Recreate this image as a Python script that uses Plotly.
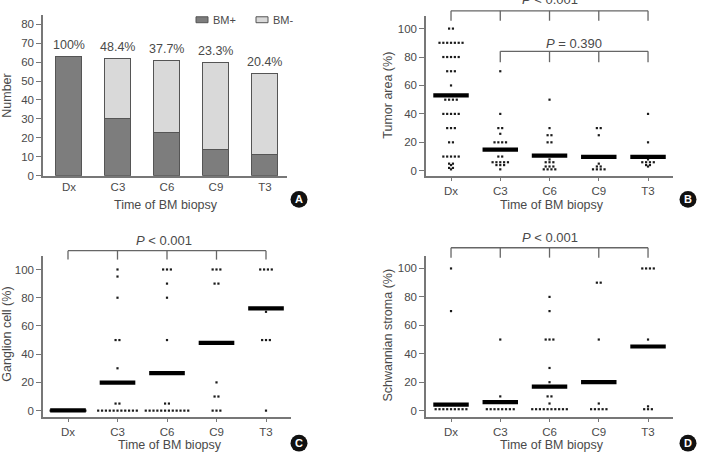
import plotly.graph_objects as go

W, H = 706, 465
FONT = "Liberation Sans Narrow, Arial Narrow, Liberation Sans, Arial"
TXT = "#4a4a4a"
AX = "#777777"

categories = ["Dx", "C3", "C6", "C9", "T3"]

# Panel A: number of patients by BM status
bm_pos = [63, 30, 23, 14, 11]
bm_neg = [0, 32, 38, 46, 43]
pct_labels = ["100%", "48.4%", "37.7%", "23.3%", "20.4%"]

# Panel B: tumor area (%) rows of (value, count)
tumor_dx = [(100, 2), (90, 7), (80, 5), (70, 3), (60, 1), (50, 4), (40, 5), (30, 3), (20, 2), (10, 5), (5, 2), (4, 1), (2, 2), (1, 1)]
tumor_c3 = [(70, 1), (40, 1), (30, 2), (26, 1), (20, 4), (10, 2), (6, 5), (4, 3), (1, 1)]
tumor_c6 = [(50, 1), (30, 1), (25, 2), (20, 2), (8, 1), (6, 3), (3, 3), (1, 4)]
tumor_c9 = [(30, 2), (25, 1), (5, 1), (3, 2), (1, 4)]
tumor_t3 = [(40, 1), (20, 1), (8, 1), (6, 4), (4, 2), (3, 1)]
tumor_mean = [53, 14.8, 10.6, 9.7, 9.7]

# Panel C: ganglion cell (%)
gang_dx = [(0, 10)]
gang_c3 = [(100, 1), (95, 1), (80, 1), (50, 2), (30, 1), (5, 2), (0, 11)]
gang_c6 = [(100, 3), (90, 1), (80, 1), (50, 1), (5, 2), (0, 12)]
gang_c9 = [(100, 3), (90, 2), (20, 1), (10, 2), (0, 3)]
gang_t3 = [(100, 4), (70, 1), (50, 3), (0, 1)]
gang_mean = [0.2, 19.9, 26.6, 48, 72.5]

# Panel D: schwannian stroma (%)
schw_dx = [(100, 1), (70, 1), (1, 9)]
schw_c3 = [(50, 1), (10, 1), (1, 8)]
schw_c6 = [(80, 1), (70, 1), (50, 3), (30, 1), (20, 1), (10, 2), (5, 1), (1, 10)]
schw_c9 = [(90, 2), (50, 1), (5, 1), (1, 5)]
schw_t3 = [(100, 4), (50, 1), (3, 1), (1, 3)]
schw_mean = [4.2, 6, 16.9, 20.1, 45.1]


def px(x):
    return x / W


def py(y):
    return 1 - y / H


def dots(groups, spacing=0.078):
    xs, ys = [], []
    for ci, rows in enumerate(groups):
        for value, count in rows:
            for k in range(count):
                xs.append(ci + (k - (count - 1) / 2) * spacing)
                ys.append(value)
    return xs, ys


def mean_lines(means, half=0.36):
    xs, ys = [], []
    for ci, m in enumerate(means):
        xs += [ci - half, ci + half, None]
        ys += [m, m, None]
    return xs, ys


fig = go.Figure()

# Panel A bars
fig.add_trace(go.Bar(x=list(range(5)), y=bm_pos, width=0.53, marker=dict(color="#7d7d7d", line=dict(color="#555555", width=1)),
                     xaxis="x", yaxis="y", showlegend=False))
fig.add_trace(go.Bar(x=list(range(5)), y=bm_neg, width=0.53, marker=dict(color="#d9d9d9", line=dict(color="#555555", width=1)),
                     xaxis="x", yaxis="y", showlegend=False))

panels = [
    ("x2", "y2", [tumor_dx, tumor_c3, tumor_c6, tumor_c9, tumor_t3], tumor_mean),
    ("x3", "y3", [gang_dx, gang_c3, gang_c6, gang_c9, gang_t3], gang_mean),
    ("x4", "y4", [schw_dx, schw_c3, schw_c6, schw_c9, schw_t3], schw_mean),
]
for xa, ya, groups, means in panels:
    dx, dy = dots(groups)
    fig.add_trace(go.Scatter(x=dx, y=dy, mode="markers", marker=dict(symbol="square", size=2.2, color="#1a1a1a"),
                             xaxis=xa, yaxis=ya, showlegend=False, cliponaxis=False))
    mx, my = mean_lines(means)
    fig.add_trace(go.Scatter(x=mx, y=my, mode="lines", line=dict(color="#000000", width=4.2),
                             xaxis=xa, yaxis=ya, showlegend=False))

tickfont = dict(family=FONT, size=11.5, color=TXT)


def xax(dom, rng, ticks=True):
    return dict(domain=[px(dom[0]), px(dom[1])], range=rng, tickvals=list(range(5)), ticktext=categories,
                showline=True, linecolor=AX, linewidth=1.5, showgrid=False, zeroline=False,
                ticks="outside" if ticks else "", ticklen=4, tickcolor=AX, tickwidth=1.2, tickfont=tickfont)


def yax(dom, rng, tv, anchor):
    return dict(domain=[py(dom[1]), py(dom[0])], range=rng, tickvals=tv, showline=True, linecolor=AX, linewidth=1.5,
                showgrid=False, zeroline=False, ticks="outside", ticklen=5, tickcolor=AX, tickwidth=1.2,
                tickfont=tickfont, anchor=anchor)


fig.update_layout(
    width=W, height=H, margin=dict(l=0, r=0, t=0, b=0), paper_bgcolor="white", plot_bgcolor="white",
    barmode="stack", showlegend=False, font=dict(family=FONT, color=TXT),
    xaxis=dict(xax((43, 287), [-0.53, 4.45], ticks=False), anchor="y"),
    yaxis=yax((15, 178), [0, 85], list(range(0, 81, 10)), "x"),
    xaxis2=dict(xax((426, 673), [-0.508, 4.507]), anchor="y2"),
    yaxis2=yax((16, 178), [-3.47, 109], list(range(0, 101, 20)), "x2"),
    xaxis3=dict(xax((43, 291), [-0.505, 4.505]), anchor="y3"),
    yaxis3=yax((259, 422), [-4.2, 109.8], list(range(0, 101, 20)), "x3"),
    xaxis4=dict(xax((426, 673), [-0.508, 4.507]), anchor="y4"),
    yaxis4=yax((259, 422), [-4.17, 109], list(range(0, 101, 20)), "x4"),
)

shapes = []
ann = []
BR = dict(color="#666666", width=1.3)


def bracket(xref, y_top, y_bot, cats):
    shapes.append(dict(type="line", xref=xref, yref="paper", x0=cats[0], x1=cats[-1], y0=py(y_top), y1=py(y_top), line=BR))
    for c in cats:
        shapes.append(dict(type="line", xref=xref, yref="paper", x0=c, x1=c, y0=py(y_top), y1=py(y_bot), line=BR))


bracket("x2", 11, 21, [0, 1, 2, 3, 4])
bracket("x2", 52, 63, [1, 2, 3, 4])
bracket("x3", 254, 263, [0, 1, 2, 3, 4])
bracket("x4", 251, 261, [0, 1, 2, 3, 4])

C = dict(xanchor="center", yanchor="middle", showarrow=False)
pfont = dict(family=FONT, size=13, color=TXT)
ann.append(dict(xref="x2", yref="paper", x=2, y=py(-1), text="<i>P</i> &lt; 0.001", font=pfont, **C))
ann.append(dict(xref="x2", yref="paper", x=2.5, y=py(44), text="<i>P</i> = 0.390", font=pfont, **C))
ann.append(dict(xref="x3", yref="paper", x=1.94, y=py(244), text="<i>P</i> &lt; 0.001", font=pfont, **C))
ann.append(dict(xref="x4", yref="paper", x=2.0, y=py(241), text="<i>P</i> &lt; 0.001", font=pfont, **C))

# percent labels on panel A
totals = [a + b for a, b in zip(bm_pos, bm_neg)]
for i, (t, lab) in enumerate(zip(totals, pct_labels)):
    ann.append(dict(xref="x", yref="y", x=i, y=t, yshift=11, text=lab, font=dict(family=FONT, size=12.5, color=TXT), **C))

# legend on panel A
for (x0, fill, lab) in [(196, "#7d7d7d", "BM+"), (256, "#d9d9d9", "BM-")]:
    shapes.append(dict(type="rect", xref="paper", yref="paper", x0=px(x0), x1=px(x0 + 12), y0=py(23), y1=py(17),
                       fillcolor=fill, line=dict(color="#555555", width=1)))
    ann.append(dict(xref="paper", yref="paper", x=px(x0 + 15), y=py(20), xanchor="left", yanchor="middle", text=lab,
                    showarrow=False, font=dict(family=FONT, size=11, color=TXT)))

# axis titles
tfont = dict(family=FONT, size=12.5, color=TXT)
for (x, y, t, ang) in [(166, 208, "Time of BM biopsy", 0), (552, 208, "Time of BM biopsy", 0),
                       (170, 451, "Time of BM biopsy", 0), (552, 451, "Time of BM biopsy", 0),
                       (7, 97, "Number", -90), (388, 97, "Tumor area (%)", -90),
                       (7, 339, "Ganglion cell (%)", -90), (388, 340, "Schwannian stroma (%)", -90)]:
    ann.append(dict(xref="paper", yref="paper", x=px(x), y=py(y), text=t, textangle=ang, font=tfont, **C))

# panel letters
for (cx, cy, L) in [(299, 202, "A"), (688, 202, "B"), (299, 449, "C"), (688, 449, "D")]:
    r = 8.5
    shapes.append(dict(type="circle", xref="paper", yref="paper", x0=px(cx - r), x1=px(cx + r), y0=py(cy + r), y1=py(cy - r),
                       fillcolor="#111111", line=dict(color="#111111", width=0)))
    ann.append(dict(xref="paper", yref="paper", x=px(cx), y=py(cy), text="<b>%s</b>" % L,
                    font=dict(family="Liberation Sans, Arial", size=11, color="white"), **C))

fig.update_layout(shapes=shapes, annotations=ann)
fig.write_html("out.html")
